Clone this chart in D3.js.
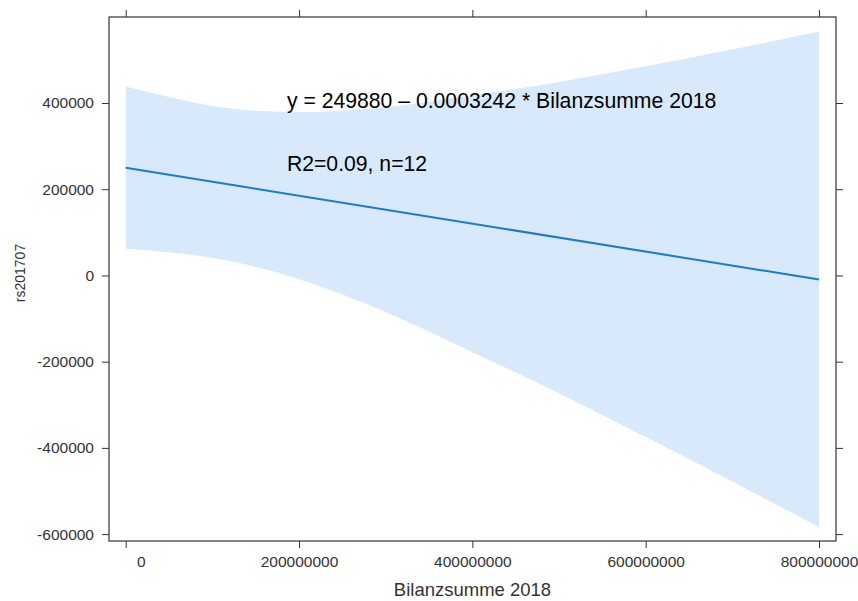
<!DOCTYPE html>
<html>
<head>
<meta charset="utf-8">
<script src="https://cdn.jsdelivr.net/npm/d3@7"></script>
<style>
  body { margin: 0; background: #fff; }
  text { font-family: Arial, "Liberation Sans", sans-serif; }
</style>
</head>
<body>
<div class="canvas"></div>
<script>
// confidence band (x = Bilanzsumme 2018)
const bandX     = [0, 50e6, 100e6, 150e6, 200e6, 250e6, 300e6, 400e6, 500e6, 600e6, 700e6, 800e6];
const bandUpper = [438000, 414000, 393000, 382000, 379000, 382000, 390000, 418000, 449000, 485000, 524000, 566000];
const bandLower = [62000, 54000, 41000, 20000, -9000, -44000, -85000, -178000, -273000, -375000, -478000, -584000];

// fitted line
const fitX = [0, 800e6];
const fitY = [249880, -9480];

// tick labels
const xTicks = [0, 200e6, 400e6, 600e6, 800e6];
const yTicks = [-600000, -400000, -200000, 0, 200000, 400000];

const eqText = 'y = 249880 \u2013 0.0003242 * Bilanzsumme 2018';
const r2Text = 'R2=0.09, n=12';

const dims = {width: 858, height: 601};
const margin = {top: 17, right: 22, bottom: 60, left: 109};
const inner = {
    width: dims.width - margin.left - margin.right,
    height: dims.height - margin.top - margin.bottom
};

const svg = d3.select('.canvas')
    .append('svg')
    .attr('width', dims.width)
    .attr('height', dims.height);

const graph = svg.append('g')
    .attr('transform', `translate(${margin.left}, ${margin.top})`);

const x = d3.scaleLinear()
    .domain([-19.3e6, 819.6e6])
    .range([0, inner.width]);

const y = d3.scaleLinear()
    .domain([-616000, 599500])
    .range([inner.height, 0]);

//band
const area = d3.area()
    .x((d, i) => x(bandX[i]))
    .y0((d, i) => y(bandLower[i]))
    .y1((d, i) => y(bandUpper[i]))
    .curve(d3.curveMonotoneX);

graph.append('path')
    .datum(bandX)
    .attr('d', area)
    .attr('fill', '#d7e9fb');

//regression line
const line = d3.line()
    .x((d, i) => x(fitX[i]))
    .y(d => y(d));

graph.append('path')
    .datum(fitY)
    .attr('d', line)
    .attr('fill', 'none')
    .attr('stroke', '#1a7ad2')
    .attr('stroke-width', 2);

//annotation
graph.append('text')
    .attr('x', x(186e6))
    .attr('y', y(389000))
    .attr('font-size', '21.2px')
    .attr('fill', '#000')
    .text(eqText);

graph.append('text')
    .attr('x', x(186e6))
    .attr('y', y(242000))
    .attr('font-size', '21.2px')
    .attr('fill', '#000')
    .text(r2Text);

//axes on all four sides, labels only bottom and left
const axisStyle = (g) => {
    g.select('.domain').remove();
    g.selectAll('line').attr('stroke', '#333');
    g.selectAll('text').attr('fill', '#333').attr('font-size', '15.5px');
};

// plain hyphen for negatives, as in the reference
const plain = d => String(d);

const xAxisG = graph.append('g')
    .attr('transform', `translate(0, ${inner.height})`)
    .call(d3.axisBottom(x).tickValues(xTicks).tickSize(7).tickPadding(8).tickFormat(plain))
    .call(axisStyle);

// the "0" label sits a little right of its tick in the reference
xAxisG.selectAll('.tick text').filter(d => d === 0).attr('dx', 15);

graph.append('g')
    .call(d3.axisTop(x).tickValues(xTicks).tickSize(7).tickFormat(''))
    .call(axisStyle);

graph.append('g')
    .call(d3.axisLeft(y).tickValues(yTicks).tickSize(7).tickPadding(8).tickFormat(plain))
    .call(axisStyle);

graph.append('g')
    .attr('transform', `translate(${inner.width}, 0)`)
    .call(d3.axisRight(y).tickValues(yTicks).tickSize(7).tickFormat(''))
    .call(axisStyle);

//panel frame
graph.append('rect')
    .attr('width', inner.width)
    .attr('height', inner.height)
    .attr('fill', 'none')
    .attr('stroke', '#333')
    .attr('stroke-width', 1.2);

//axis titles
svg.append('text')
    .attr('x', margin.left + inner.width / 2)
    .attr('y', 596)
    .attr('text-anchor', 'middle')
    .attr('font-size', '18.5px')
    .attr('fill', '#333')
    .text('Bilanzsumme 2018');

svg.append('text')
    .attr('transform', `translate(25, 273) rotate(-90)`)
    .attr('text-anchor', 'middle')
    .attr('font-size', '14px')
    .attr('fill', '#333')
    .text('rs201707');
</script>
</body>
</html>
